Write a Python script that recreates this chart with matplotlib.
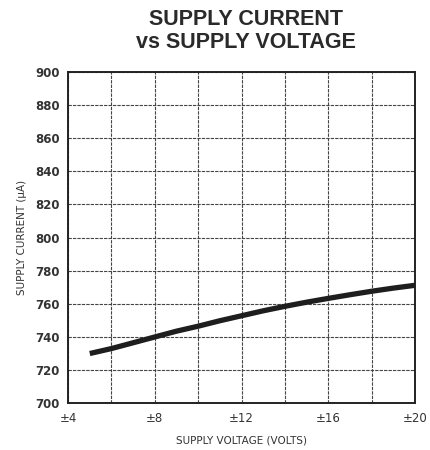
import matplotlib
matplotlib.use("Agg")
from matplotlib import pyplot

supply_voltage = [5, 6, 7, 8, 9, 10, 11, 12, 13, 14, 15, 16, 17, 18, 19, 20]
supply_current = [730, 733, 736.5, 740, 743.5, 746.5, 749.8, 752.8, 755.8, 758.5,
                  761, 763.3, 765.5, 767.6, 769.5, 771.2]

x_ticks = [4, 8, 12, 16, 20]
x_tick_labels = ["\u00b14", "\u00b18", "\u00b112", "\u00b116", "\u00b120"]
y_ticks = list(range(700, 901, 20))

fig = pyplot.figure(figsize=(4.31, 4.5), dpi=100)
ax = fig.add_axes([0.158, 0.104, 0.805, 0.736])

ax.plot(supply_voltage, supply_current, color="#1e1e1e", linewidth=3.8,
        solid_capstyle="butt", solid_joinstyle="round", zorder=3)

ax.set_xlim(4, 20)
ax.set_ylim(700, 900)
ax.set_xticks(x_ticks)
ax.set_xticklabels(x_tick_labels)
ax.set_xticks(range(4, 21, 2), minor=True)
ax.set_yticks(y_ticks)

ax.grid(True, which="both", color="#444444", linewidth=0.8, linestyle=(0, (3, 1)))
ax.tick_params(which="both", length=0, labelsize=8.5, colors="#333333", pad=6)
for lbl in ax.get_yticklabels():
    lbl.set_fontweight("bold")
for spine in ax.spines.values():
    spine.set_color("#222222")
    spine.set_linewidth(1.4)

ax.set_xlabel("SUPPLY VOLTAGE (VOLTS)", fontsize=7.5, color="#333333", labelpad=8)
ax.set_ylabel("SUPPLY CURRENT (\u00b5A)", fontsize=7.5, color="#333333", labelpad=6)

fig.text(0.57, 0.98, "SUPPLY CURRENT\nvs SUPPLY VOLTAGE", ha="center", va="top",
         fontsize=15.5, fontweight="bold", color="#2a2a2a", linespacing=1.1,
         family="Liberation Sans")

fig.savefig("out.png", dpi=100)
